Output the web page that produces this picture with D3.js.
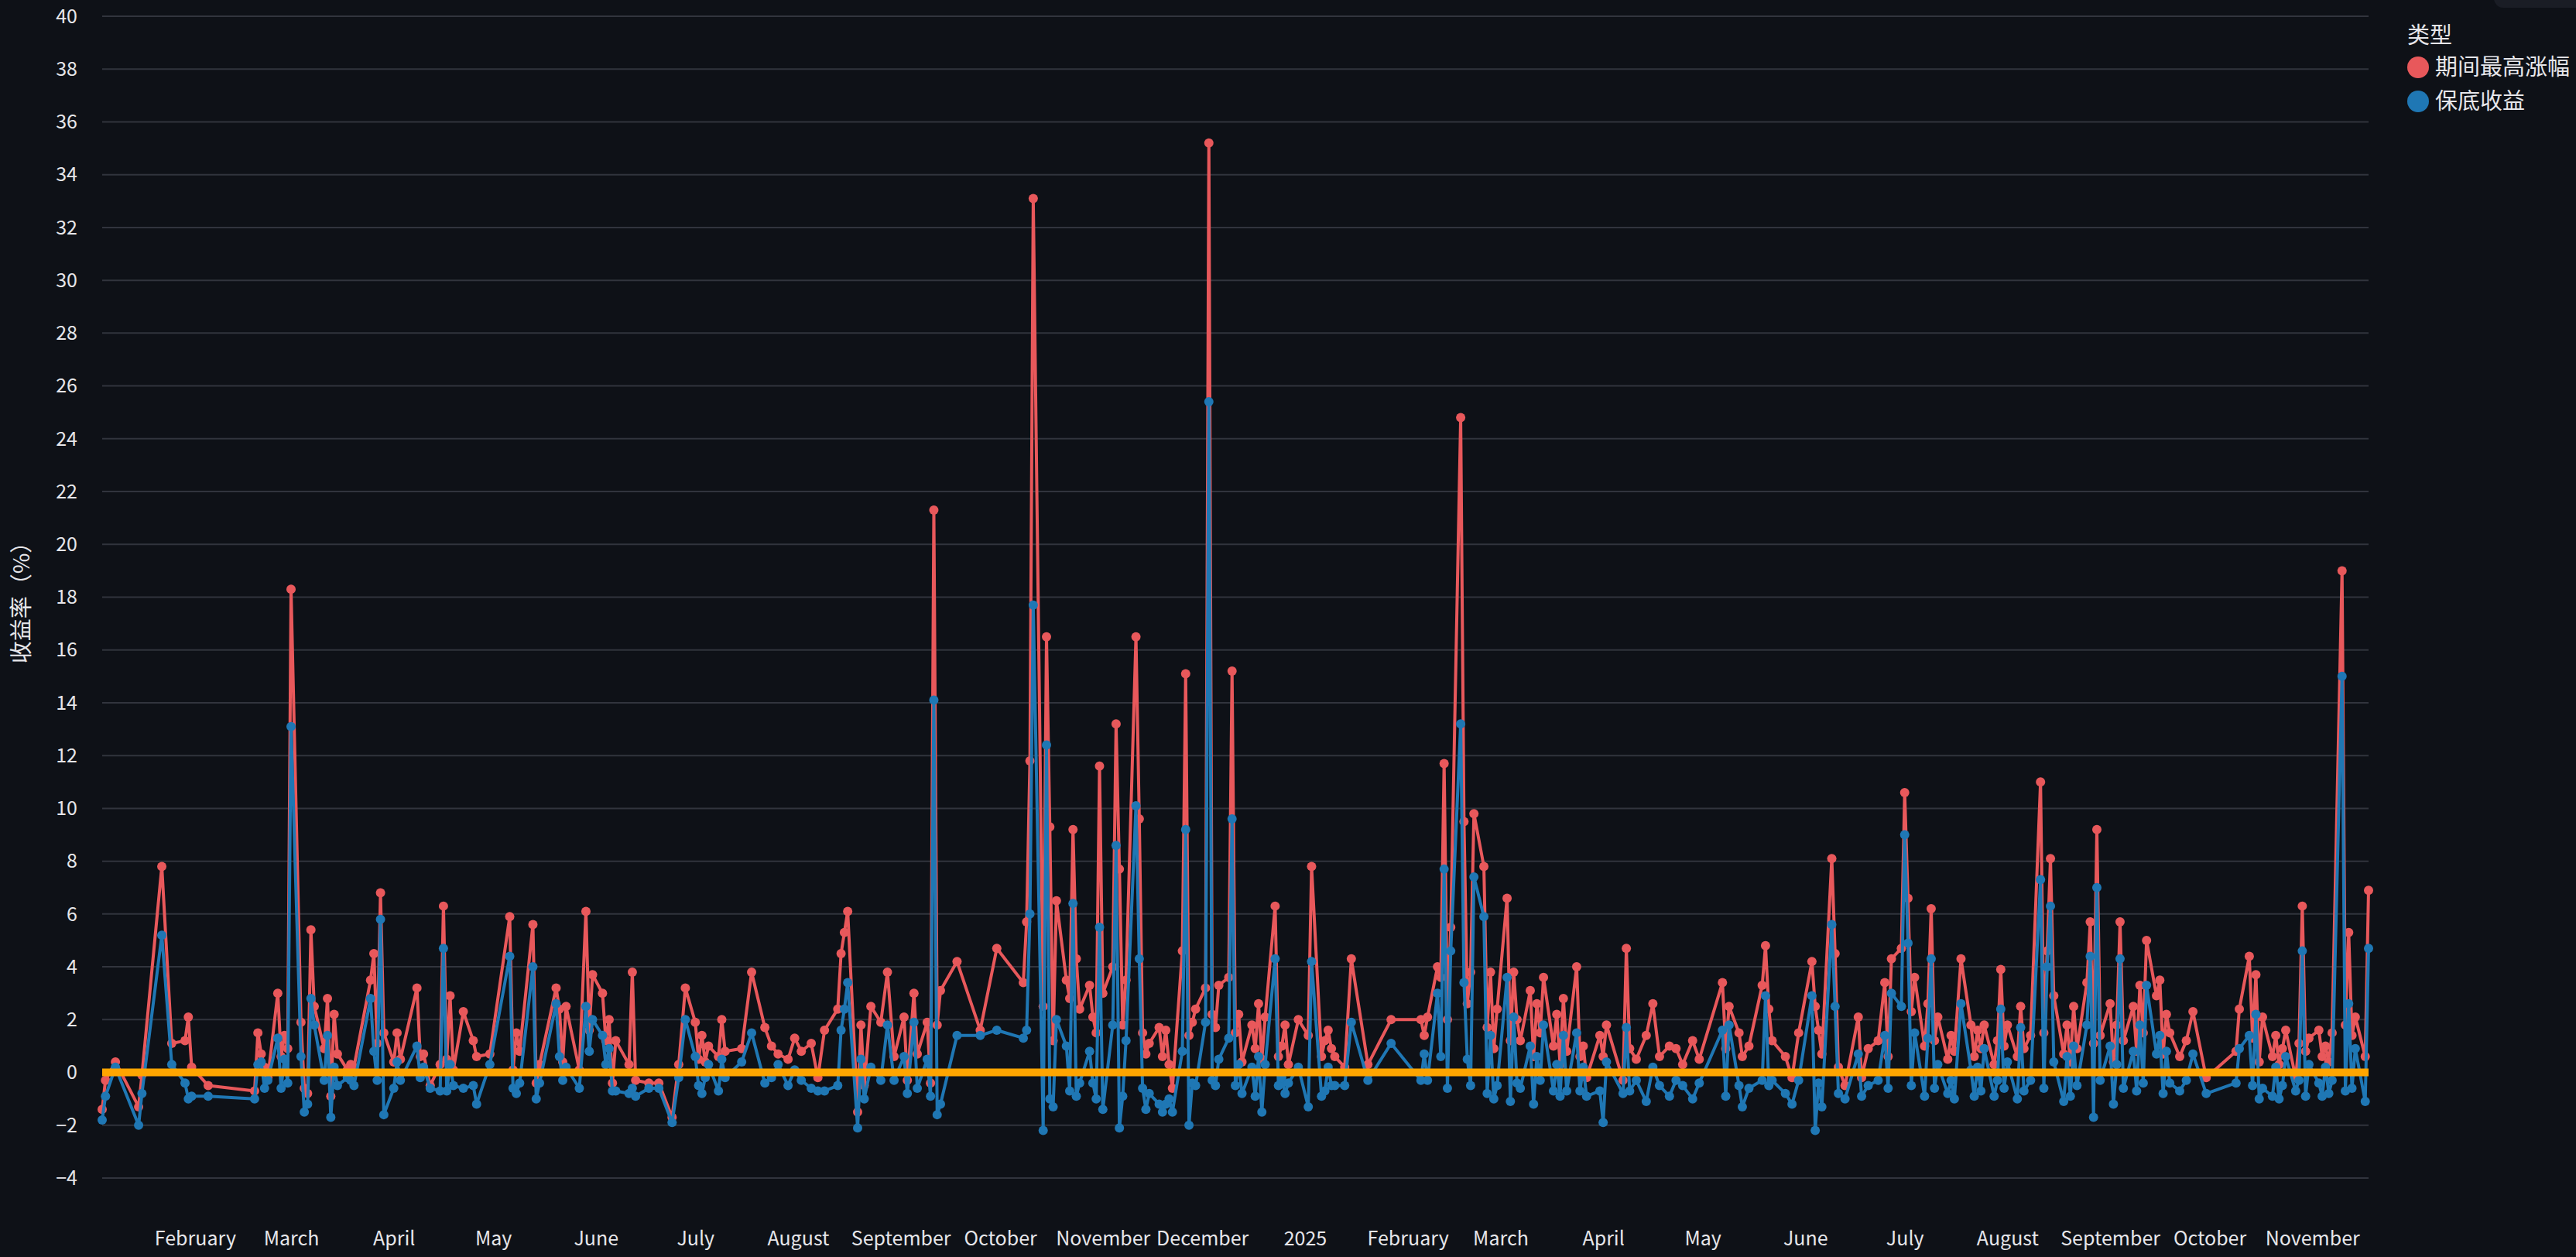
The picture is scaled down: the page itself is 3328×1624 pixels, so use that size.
<!DOCTYPE html>
<html>
<head>
<meta charset="utf-8">
<script src="https://cdn.jsdelivr.net/npm/d3@7"></script>
<style>
  body { margin: 0; background: #0e1117; }
  svg { display: block; }
</style>
</head>
<body>
<div id="chart"></div>
<script>
// 日期 / 期间最高涨幅 / 保底收益 (%)
var dates = [
  "2024-01-04","2024-01-05","2024-01-08","2024-01-15","2024-01-16","2024-01-22","2024-01-25","2024-01-29","2024-01-30","2024-01-31",
  "2024-02-05","2024-02-19","2024-02-20","2024-02-21","2024-02-22","2024-02-23","2024-02-26","2024-02-27","2024-02-28","2024-02-29",
  "2024-03-01","2024-03-04","2024-03-05","2024-03-06","2024-03-07","2024-03-08","2024-03-11","2024-03-12","2024-03-13","2024-03-14","2024-03-15","2024-03-18","2024-03-19","2024-03-20","2024-03-25","2024-03-26","2024-03-27","2024-03-28","2024-03-29",
  "2024-04-01","2024-04-02","2024-04-03","2024-04-08","2024-04-09","2024-04-10","2024-04-12","2024-04-15","2024-04-16","2024-04-17","2024-04-18","2024-04-19","2024-04-22","2024-04-25","2024-04-26","2024-04-30",
  "2024-05-06","2024-05-07","2024-05-08","2024-05-09","2024-05-13","2024-05-14","2024-05-15","2024-05-20","2024-05-21","2024-05-22","2024-05-23","2024-05-27","2024-05-29","2024-05-30","2024-05-31",
  "2024-06-03","2024-06-04","2024-06-05","2024-06-06","2024-06-07","2024-06-11","2024-06-12","2024-06-13","2024-06-17","2024-06-20","2024-06-24","2024-06-26","2024-06-28",
  "2024-07-01","2024-07-02","2024-07-03","2024-07-04","2024-07-05","2024-07-08","2024-07-09","2024-07-10","2024-07-15","2024-07-18","2024-07-22","2024-07-24","2024-07-26","2024-07-29","2024-07-31",
  "2024-08-02","2024-08-05","2024-08-07","2024-08-09","2024-08-13","2024-08-14","2024-08-15","2024-08-16","2024-08-19","2024-08-20","2024-08-21","2024-08-23","2024-08-26","2024-08-28","2024-08-30",
  "2024-09-02","2024-09-03","2024-09-05","2024-09-06","2024-09-09","2024-09-10","2024-09-11","2024-09-12","2024-09-13","2024-09-18","2024-09-25","2024-09-30",
  "2024-10-08","2024-10-09","2024-10-10","2024-10-11","2024-10-14","2024-10-15","2024-10-16","2024-10-17","2024-10-18","2024-10-21","2024-10-22","2024-10-23","2024-10-24","2024-10-25","2024-10-28","2024-10-29","2024-10-30","2024-10-31",
  "2024-11-01","2024-11-04","2024-11-05","2024-11-06","2024-11-07","2024-11-08","2024-11-11","2024-11-12","2024-11-13","2024-11-14","2024-11-15","2024-11-18","2024-11-19","2024-11-20","2024-11-21","2024-11-22","2024-11-25","2024-11-26","2024-11-27","2024-11-28","2024-11-29",
  "2024-12-02","2024-12-03","2024-12-04","2024-12-05","2024-12-06","2024-12-09","2024-12-10","2024-12-11","2024-12-12","2024-12-13","2024-12-16","2024-12-17","2024-12-18","2024-12-19","2024-12-20","2024-12-23","2024-12-24","2024-12-25","2024-12-26","2024-12-27","2024-12-30",
  "2025-01-02","2025-01-03","2025-01-06","2025-01-07","2025-01-08","2025-01-09","2025-01-10","2025-01-13","2025-01-15","2025-01-20","2025-01-27",
  "2025-02-05","2025-02-06","2025-02-07","2025-02-10","2025-02-11","2025-02-12","2025-02-13","2025-02-14","2025-02-17","2025-02-18","2025-02-19","2025-02-20","2025-02-21","2025-02-24","2025-02-25","2025-02-26","2025-02-27","2025-02-28",
  "2025-03-03","2025-03-04","2025-03-05","2025-03-06","2025-03-07","2025-03-10","2025-03-11","2025-03-12","2025-03-13","2025-03-14","2025-03-17","2025-03-18","2025-03-19","2025-03-20","2025-03-21","2025-03-24","2025-03-25","2025-03-26","2025-03-27","2025-03-31",
  "2025-04-01","2025-04-02","2025-04-07","2025-04-08","2025-04-09","2025-04-11","2025-04-14","2025-04-16","2025-04-18","2025-04-21","2025-04-23","2025-04-25","2025-04-28","2025-04-30",
  "2025-05-07","2025-05-08","2025-05-09","2025-05-12","2025-05-13","2025-05-15","2025-05-19","2025-05-20","2025-05-21","2025-05-22","2025-05-26","2025-05-28","2025-05-30",
  "2025-06-03","2025-06-04","2025-06-05","2025-06-06","2025-06-09","2025-06-10","2025-06-11","2025-06-13","2025-06-17","2025-06-18","2025-06-20","2025-06-23","2025-06-25","2025-06-26","2025-06-27","2025-06-30",
  "2025-07-01","2025-07-02","2025-07-03","2025-07-04","2025-07-07","2025-07-08","2025-07-09","2025-07-10","2025-07-11","2025-07-14","2025-07-15","2025-07-16","2025-07-18","2025-07-21","2025-07-22","2025-07-23","2025-07-24","2025-07-25","2025-07-28","2025-07-29","2025-07-30","2025-07-31",
  "2025-08-01","2025-08-04","2025-08-05","2025-08-06","2025-08-08","2025-08-11","2025-08-12","2025-08-13","2025-08-14","2025-08-15","2025-08-18","2025-08-19","2025-08-20","2025-08-21","2025-08-22","2025-08-25","2025-08-26","2025-08-27","2025-08-28","2025-08-29",
  "2025-09-01","2025-09-02","2025-09-03","2025-09-04","2025-09-05","2025-09-08","2025-09-09","2025-09-10","2025-09-11","2025-09-12","2025-09-15","2025-09-16","2025-09-17","2025-09-18","2025-09-19","2025-09-22","2025-09-24","2025-09-26","2025-09-30",
  "2025-10-09","2025-10-10","2025-10-13","2025-10-14","2025-10-15","2025-10-16","2025-10-17","2025-10-20","2025-10-21","2025-10-22","2025-10-23","2025-10-24","2025-10-27","2025-10-28","2025-10-29","2025-10-30","2025-10-31",
  "2025-11-03","2025-11-04","2025-11-05","2025-11-06","2025-11-07","2025-11-10","2025-11-11","2025-11-12","2025-11-13","2025-11-14","2025-11-17","2025-11-18"
];
var maxRise = [
  -1.4,-0.3,0.4,-1.3,-0.1,7.8,1.1,1.2,2.1,0.2,
  -0.5,-0.7,1.5,0.7,0.2,-0.2,3.0,0.6,1.4,0.9,
  18.3,1.9,-0.6,-0.8,5.4,2.5,0.9,2.8,-0.9,2.2,0.7,0.1,0.3,0.2,3.5,4.5,1.1,6.8,1.5,
  0.4,1.5,0.5,3.2,0.6,0.7,-0.5,0.3,6.3,0.5,2.9,0.1,2.3,1.2,0.6,0.7,
  5.9,0.1,1.5,0.8,5.6,-0.4,0.3,3.2,2.4,0.4,2.5,0.1,6.1,1.6,3.7,
  3.0,1.2,2.0,-0.4,1.2,0.3,3.8,-0.3,-0.4,-0.4,-1.7,0.3,3.2,
  1.9,0.5,1.4,0.4,1.0,0.6,2.0,0.8,0.9,3.8,1.7,1.0,0.7,0.5,1.3,
  0.8,1.1,-0.2,1.6,2.4,4.5,5.3,6.1,-1.5,1.8,-0.5,2.5,1.9,3.8,0.6,
  2.1,-0.3,3.0,0.7,1.9,-0.4,21.3,1.8,3.1,4.2,1.6,4.7,
  3.4,5.7,11.8,33.1,2.5,16.5,9.3,1.2,6.5,3.5,2.8,9.2,4.3,2.4,3.3,2.1,1.5,11.6,
  3.0,4.0,13.2,7.7,1.8,3.5,16.5,9.6,1.5,0.7,1.1,1.7,0.6,1.6,0.3,-0.6,4.6,15.1,1.4,1.9,2.4,
  3.2,35.2,2.2,1.7,3.3,3.6,15.2,1.5,2.2,0.4,1.8,0.9,2.6,0.5,2.1,6.3,0.6,1.0,1.8,0.3,2.0,
  1.4,7.8,0.6,1.2,1.6,0.9,0.6,0.2,4.3,0.3,2.0,
  2.0,1.4,2.1,4.0,3.6,11.7,2.0,5.5,24.8,9.5,2.6,3.8,9.8,7.8,1.7,3.8,0.9,2.4,
  6.6,1.2,3.8,2.0,1.2,3.1,0.6,2.6,1.5,3.6,1.0,2.2,0.3,2.8,0.8,4.0,0.6,1.0,-0.2,1.4,
  0.6,1.8,-0.3,4.7,0.9,0.5,1.4,2.6,0.6,1.0,0.9,0.3,1.2,0.5,
  3.4,0.9,2.5,1.5,0.6,1.0,3.3,4.8,2.4,1.2,0.6,-0.2,1.5,
  4.2,2.5,1.6,0.7,8.1,4.5,0.2,-0.5,2.1,-0.2,0.9,1.2,3.4,0.6,4.3,4.7,
  10.6,6.6,2.3,3.6,1.0,2.6,6.2,1.2,2.1,0.5,1.4,0.8,4.3,1.8,0.6,1.6,0.9,1.8,0.3,1.2,3.9,1.0,
  1.8,0.6,2.5,0.9,1.4,11.0,1.5,4.6,8.1,2.9,0.7,1.8,0.4,2.5,0.9,3.4,5.7,1.1,9.2,1.4,
  2.6,0.4,1.8,5.7,1.2,2.5,0.8,3.3,1.5,5.0,2.9,3.5,0.7,2.2,1.5,0.6,1.2,2.3,-0.2,
  0.8,2.4,4.4,1.3,3.7,0.4,2.1,0.6,1.4,0.3,0.9,1.6,-0.2,1.1,6.3,0.8,1.3,
  1.6,0.6,1.0,0.4,1.5,19.0,1.8,5.3,1.4,2.1,0.6,6.9
];
var floorRet = [
  -1.8,-0.9,0.2,-2.0,-0.8,5.2,0.3,-0.4,-1.0,-0.9,
  -0.9,-1.0,0.3,0.4,-0.6,-0.3,1.3,-0.6,0.5,-0.4,
  13.1,0.6,-1.5,-1.2,2.8,1.8,-0.3,1.4,-1.7,0.2,-0.5,-0.2,-0.3,-0.5,2.8,0.8,-0.3,5.8,-1.6,
  -0.6,0.4,-0.3,1.0,-0.2,0.2,-0.6,-0.7,4.7,-0.7,0.3,-0.5,-0.6,-0.5,-1.2,0.3,
  4.4,-0.6,-0.8,-0.4,4.0,-1.0,-0.4,2.6,0.6,-0.3,0.2,-0.6,2.5,0.8,2.0,
  1.4,0.3,0.9,-0.7,-0.7,-0.8,-0.6,-0.9,-0.6,-0.6,-1.9,-0.2,2.0,
  0.6,-0.5,-0.8,-0.2,0.3,-0.7,0.5,-0.2,0.4,1.5,-0.4,-0.2,0.3,-0.5,0.1,
  -0.3,-0.6,-0.7,-0.7,-0.5,1.6,2.4,3.4,-2.1,0.5,-1.0,0.2,-0.3,1.8,-0.3,
  0.6,-0.8,1.9,-0.6,0.5,-0.9,14.1,-1.6,-1.2,1.4,1.4,1.6,
  1.3,1.6,6.0,17.7,-2.2,12.4,-1.0,-1.3,2.0,1.0,-0.7,6.4,-0.9,-0.4,0.8,-0.4,-1.0,5.5,
  -1.4,1.8,8.6,-2.1,-0.9,1.2,10.1,4.3,-0.6,-1.4,-0.8,-1.2,-1.5,-1.2,-1.0,-1.5,0.8,9.2,-2.0,-0.4,-0.5,
  1.9,25.4,-0.3,-0.5,0.5,1.3,9.6,-0.5,0.3,-0.8,0.2,-0.9,0.6,-1.5,0.3,4.3,-0.5,-0.2,-0.8,-0.4,0.2,
  -1.3,4.2,-0.9,-0.7,0.2,-0.5,-0.5,-0.5,1.9,-0.3,1.1,
  -0.3,0.7,-0.3,3.0,0.6,7.7,-0.6,4.6,13.2,3.4,0.5,-0.5,7.4,5.9,-0.8,1.4,-1.0,-0.5,
  3.6,-1.1,2.1,-0.4,-0.6,1.0,-1.2,0.6,-0.3,1.8,-0.7,0.3,-0.9,1.4,-0.7,1.5,-0.7,0.2,-0.9,-0.7,
  -1.9,0.4,-0.8,1.7,-0.7,-0.3,-1.1,0.2,-0.5,-0.9,-0.3,-0.5,-1.0,-0.4,
  1.6,-0.9,1.8,-0.5,-1.3,-0.6,-0.3,2.9,-0.5,-0.3,-0.8,-1.2,-0.3,
  2.9,-2.2,-0.4,-1.3,5.6,2.5,-0.8,-1.0,0.7,-0.9,-0.5,-0.3,1.4,-0.6,3.0,2.5,
  9.0,4.9,-0.5,1.5,-0.9,1.3,4.3,-0.6,0.3,-0.8,-0.3,-1.0,2.6,0.1,-0.9,0.2,-0.7,0.9,-0.9,-0.3,2.4,-0.6,
  0.4,-1.0,1.7,-0.7,-0.3,7.3,-0.6,4.0,6.3,0.4,-1.1,0.6,-0.9,1.0,-0.5,1.8,4.4,-1.7,7.0,-0.3,
  1.0,-1.2,0.3,4.3,-0.6,0.8,-0.7,1.8,-0.4,3.3,0.7,1.4,-0.8,0.8,-0.4,-0.7,-0.3,0.7,-0.8,
  -0.4,0.9,1.4,-0.5,2.2,-1.0,-0.6,-0.9,0.2,-1.0,-0.5,0.6,-0.7,-0.3,4.6,-0.9,0.3,
  -0.4,-0.9,0.2,-0.8,-0.3,15.0,-0.7,2.6,-0.6,0.9,-1.1,4.7
];
var yTicks = d3.range(-4, 41, 2);
var seriesNames = ["期间最高涨幅", "保底收益"];
var seriesColors = ["#e8585b", "#1f77b4"];

var width = 3328, height = 1624;
var margin = {top: 21, right: 268, bottom: 102, left: 132};
var textColor = "#e6e6ea";
var fontFamily = "'Noto Sans CJK SC', 'Noto Sans', sans-serif";

var parse = d3.timeParse("%Y-%m-%d");
var data = dates.map(function(d, i) {
  return {date: parse(d), rise: maxRise[i], floor: floorRet[i]};
});

var svg = d3.select("#chart").append("svg")
  .attr("width", width).attr("height", height)
  .style("background", "#0e1117");

var x = d3.scaleTime()
  .domain([parse("2024-01-04"), parse("2025-11-18")])
  .range([margin.left, width - margin.right]);
var y = d3.scaleLinear()
  .domain([-4, 40])
  .range([1522, 21]);

// grid
svg.append("g").selectAll("line")
  .data(yTicks).join("line")
  .attr("x1", margin.left).attr("x2", width - margin.right)
  .attr("y1", d => y(d)).attr("y2", d => y(d))
  .attr("stroke", "#31343d").attr("stroke-width", 2);

// y axis labels
svg.append("g").selectAll("text")
  .data(yTicks).join("text")
  .attr("x", 100).attr("y", d => y(d))
  .attr("dy", "0.35em").attr("text-anchor", "end")
  .attr("fill", textColor).attr("font-size", 25).attr("font-family", fontFamily)
  .text(d => d < 0 ? "\u2212" + Math.abs(d) : d);

svg.append("text")
  .attr("transform", "translate(38," + y(18) + ") rotate(-90)")
  .attr("text-anchor", "middle")
  .attr("fill", textColor).attr("font-size", 29).attr("font-family", fontFamily)
  .text("收益率（%）");

// x axis
var xAxis = d3.axisBottom(x)
  .ticks(d3.timeMonth.every(1))
  .tickSize(0).tickPadding(0)
  .tickFormat(function(d) {
    return d.getMonth() === 0 ? d3.timeFormat("%Y")(d) : d3.timeFormat("%B")(d);
  });
var gx = svg.append("g")
  .attr("transform", "translate(0,1591)")
  .call(xAxis);
gx.select(".domain").remove();
gx.selectAll("text")
  .attr("fill", textColor).attr("font-size", 25).attr("font-family", fontFamily);

// series
var keys = ["rise", "floor"];
keys.forEach(function(k, i) {
  var line = d3.line().x(d => x(d.date)).y(d => y(d[k]));
  svg.append("path").datum(data)
    .attr("d", line).attr("fill", "none")
    .attr("stroke", seriesColors[i]).attr("stroke-width", 4)
    .attr("stroke-linejoin", "round");
  svg.append("g").selectAll("circle")
    .data(data).join("circle")
    .attr("cx", d => x(d.date)).attr("cy", d => y(d[k]))
    .attr("r", 6).attr("fill", seriesColors[i]);
});

// zero line
svg.append("line")
  .attr("x1", margin.left).attr("x2", width - margin.right)
  .attr("y1", y(0)).attr("y2", y(0))
  .attr("stroke", "#ffa500").attr("stroke-width", 10);

// legend
var legend = svg.append("g").attr("transform", "translate(3110,0)");
legend.append("text").attr("x", 0).attr("y", 56)
  .attr("fill", textColor).attr("font-size", 29).attr("font-family", fontFamily)
  .text("类型");
seriesNames.forEach(function(n, i) {
  var cy = 87 + i * 44;
  legend.append("circle").attr("cx", 14).attr("cy", cy).attr("r", 14).attr("fill", seriesColors[i]);
  legend.append("text").attr("x", 36).attr("y", cy).attr("dy", "0.36em")
    .attr("fill", textColor).attr("font-size", 29).attr("font-family", fontFamily)
    .text(n);
});

// toolbar
svg.append("rect").attr("x", 3222).attr("y", -20).attr("width", 130).attr("height", 30)
  .attr("rx", 12).attr("fill", "#1a1d25");
</script>
</body>
</html>
